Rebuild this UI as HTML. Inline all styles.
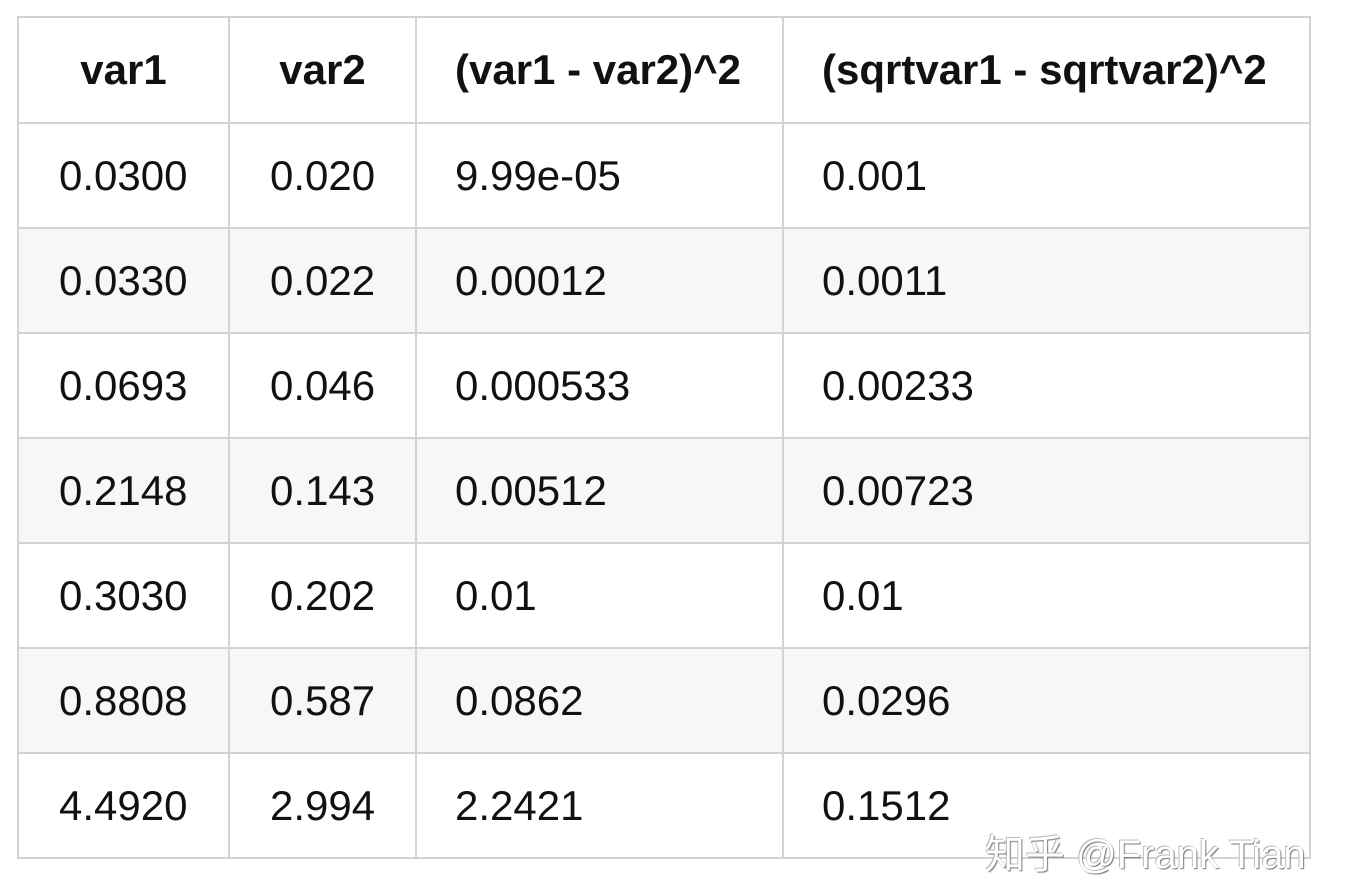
<!DOCTYPE html>
<html><head><meta charset="utf-8"><style>
html,body{margin:0;padding:0;background:#fff;width:1350px;height:872px;overflow:hidden;font-family:"Liberation Sans",Arial,sans-serif;}
table{position:absolute;left:17px;top:16px;border-collapse:collapse;table-layout:fixed;}
td,th{border:2px solid #d3d3d3;height:103px;padding:0 0 0 40px;font-size:42px;color:#111;text-align:left;}
td.c3{padding-left:38px;}
td.c4{padding-left:38px;}
th{font-weight:bold;text-align:center;padding:0;height:104px;}
th.l{text-align:left;padding-left:38px;}
tr.alt td{background:#f7f7f7;}
.wm{position:absolute;left:985px;top:822px;font-size:40px;color:#fff;font-family:"Liberation Sans","Noto Sans CJK SC",sans-serif;text-shadow:1px 1px 1px #777,-1px -1px 0 #bbb;}
</style></head><body>
<table>
<colgroup><col style="width:211px"><col style="width:187px"><col style="width:367px"><col style="width:527px"></colgroup>
<tr><th>var1</th><th>var2</th><th class="l">(var1 - var2)^2</th><th class="l">(sqrtvar1 - sqrtvar2)^2</th></tr>
<tr><td>0.0300</td><td>0.020</td><td class="c3">9.99e-05</td><td class="c4">0.001</td></tr>
<tr class="alt"><td>0.0330</td><td>0.022</td><td class="c3">0.00012</td><td class="c4">0.0011</td></tr>
<tr><td>0.0693</td><td>0.046</td><td class="c3">0.000533</td><td class="c4">0.00233</td></tr>
<tr class="alt"><td>0.2148</td><td>0.143</td><td class="c3">0.00512</td><td class="c4">0.00723</td></tr>
<tr><td>0.3030</td><td>0.202</td><td class="c3">0.01</td><td class="c4">0.01</td></tr>
<tr class="alt"><td>0.8808</td><td>0.587</td><td class="c3">0.0862</td><td class="c4">0.0296</td></tr>
<tr><td>4.4920</td><td>2.994</td><td class="c3">2.2421</td><td class="c4">0.1512</td></tr>
</table>
<div class="wm">知乎 @Frank Tian</div>
</body></html>
